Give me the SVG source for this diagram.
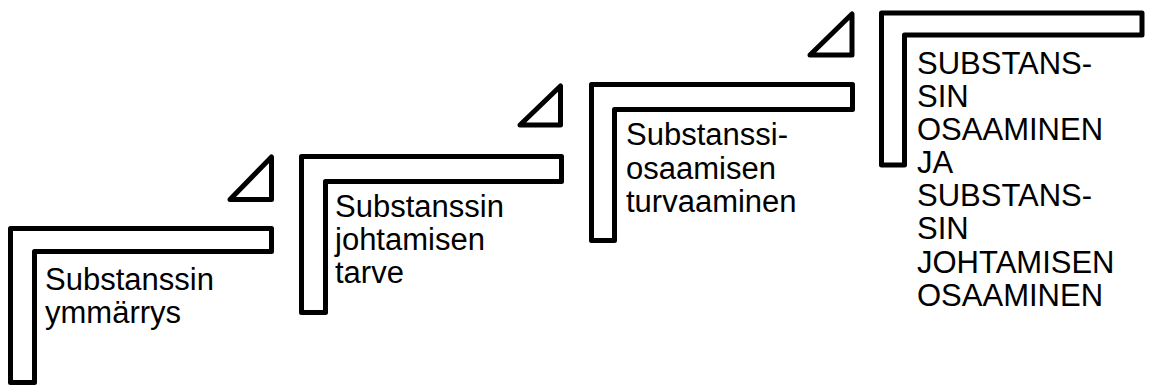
<svg xmlns="http://www.w3.org/2000/svg" width="1149" height="385" viewBox="0 0 1149 385">
  <style>
    .step { fill: #fff; stroke: #000; stroke-width: 5; stroke-linejoin: round; }
    .label { font-family: "Liberation Sans", Arial, sans-serif; font-size: 31px; fill: #000; }
  </style>
  <rect width="1149" height="385" fill="#fff"/>

  <!-- step 1 -->
  <g id="step1">
    <path class="step" d="M10.5 382.5 V228.5 H271.5 V251.5 H34.5 V382.5 Z"/>
    <text class="label" x="45" y="290">Substanssin</text>
    <text class="label" x="45" y="323">ymmärrys</text>
  </g>

  <!-- step 2 -->
  <g id="step2">
    <path class="step" d="M301.5 312.5 V156.5 H561.5 V181.5 H325.5 V312.5 Z"/>
    <text class="label" x="335" y="216.5">Substanssin</text>
    <text class="label" x="335" y="249.5">johtamisen</text>
    <text class="label" x="335" y="282.5">tarve</text>
  </g>

  <!-- step 3 -->
  <g id="step3">
    <path class="step" d="M591.5 240.5 V84.5 H852.5 V109.5 H614.5 V240.5 Z"/>
    <text class="label" x="626" y="145">Substanssi-</text>
    <text class="label" x="626" y="178.5">osaamisen</text>
    <text class="label" x="626" y="212">turvaaminen</text>
  </g>

  <!-- step 4 -->
  <g id="step4">
    <path class="step" d="M881.5 165 V13 H1142 V35 H904.5 V165 Z"/>
    <text class="label" x="917" y="74">SUBSTANS-</text>
    <text class="label" x="917" y="107">SIN</text>
    <text class="label" x="917" y="140">OSAAMINEN</text>
    <text class="label" x="917" y="173">JA</text>
    <text class="label" x="917" y="206">SUBSTANS-</text>
    <text class="label" x="917" y="239">SIN</text>
    <text class="label" x="917" y="273">JOHTAMISEN</text>
    <text class="label" x="917" y="306">OSAAMINEN</text>
  </g>

  <!-- rising triangles between steps -->
  <g id="connectors">
    <path class="step" d="M271.5 157 V199.5 H230 Z"/>
    <path class="step" d="M560.5 86 V125 H520 Z"/>
    <path class="step" d="M852 14 V55 H810 Z"/>
  </g>
</svg>
